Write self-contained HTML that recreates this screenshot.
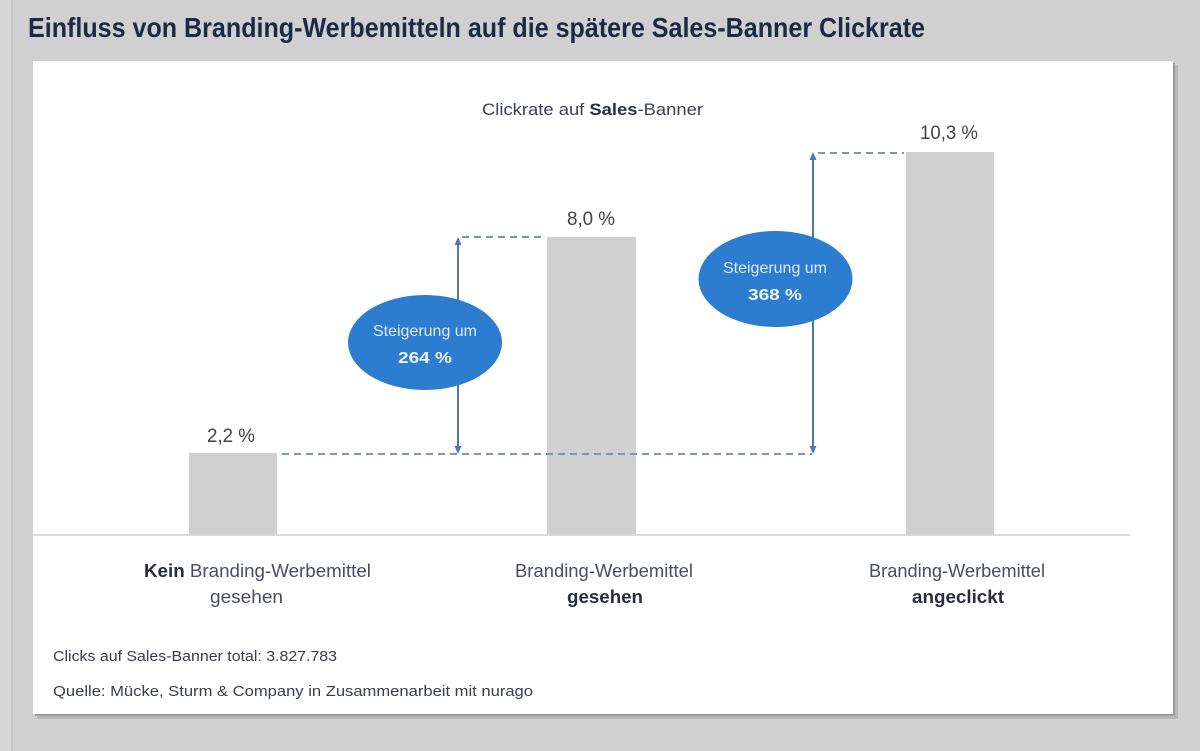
<!DOCTYPE html>
<html>
<head>
<meta charset="utf-8">
<style>
html,body{margin:0;padding:0;background:#d0d0d0;}
body{width:1200px;height:751px;overflow:hidden;}
svg{display:block;}
text{font-family:"Liberation Sans",Arial,sans-serif;}
</style>
</head>
<body>
<svg width="1200" height="751" viewBox="0 0 1200 751" xmlns="http://www.w3.org/2000/svg">
  <rect x="0" y="0" width="1200" height="751" fill="#d0d0d0"/>
  <rect x="0" y="0" width="11" height="751" fill="#d5d5d5"/>
  <rect x="11" y="0" width="2" height="751" fill="#c6c6c6"/>

  <!-- Title -->
  <text x="28" y="37" font-size="28" font-weight="bold" fill="#1d2947" textLength="897" lengthAdjust="spacingAndGlyphs">Einfluss von Branding-Werbemitteln auf die spätere Sales-Banner Clickrate</text>

  <!-- panel shadow -->
  <rect x="37" y="65" width="1141" height="654" fill="#b8b8b8"/>
  <rect x="35" y="63" width="1140" height="653" fill="#9c9c9c"/>
  <!-- panel -->
  <rect x="33" y="61" width="1140" height="653" fill="#ffffff"/>

  <!-- Chart title -->
  <text x="482" y="115" font-size="17" fill="#3c3f52" textLength="221" lengthAdjust="spacingAndGlyphs">Clickrate auf <tspan font-weight="bold" fill="#2a2e44">Sales</tspan>-Banner</text>

  <!-- axis -->
  <rect x="33" y="534" width="1097" height="2" fill="#d9d9d9"/>

  <!-- bars -->
  <rect x="189" y="453" width="88" height="81" fill="#d0d0d0"/>
  <rect x="547" y="237" width="89" height="297" fill="#d0d0d0"/>
  <rect x="906" y="152" width="88" height="382" fill="#d0d0d0"/>

  <!-- value labels -->
  <text x="207" y="442" font-size="19" fill="#444" textLength="48" lengthAdjust="spacingAndGlyphs">2,2 %</text>
  <text x="567" y="225" font-size="19" fill="#444" textLength="48" lengthAdjust="spacingAndGlyphs">8,0 %</text>
  <text x="920" y="139" font-size="19" fill="#444" textLength="58" lengthAdjust="spacingAndGlyphs">10,3 %</text>

  <!-- dashed lines -->
  <g stroke="#8094ad" stroke-width="2" stroke-dasharray="7,5" fill="none">
    <line x1="282" y1="454" x2="812" y2="454"/>
    <line x1="462" y1="237" x2="545" y2="237"/>
    <line x1="818" y1="153" x2="904" y2="153"/>
  </g>

  <!-- arrows -->
  <g stroke="#4f78b0" stroke-width="2" fill="none">
    <line x1="458" y1="242" x2="458" y2="449"/>
    <line x1="813" y1="158" x2="813" y2="449"/>
  </g>
  <g fill="#4f78b0">
    <polygon points="458,237 454.5,245 461.5,245"/>
    <polygon points="458,454 454.5,446 461.5,446"/>
    <polygon points="813,152 809.5,160 816.5,160"/>
    <polygon points="813,454 809.5,446 816.5,446"/>
  </g>

  <!-- ellipses -->
  <ellipse cx="425" cy="342.5" rx="77" ry="47.5" fill="#2c7dd0"/>
  <ellipse cx="775.5" cy="279" rx="77" ry="48" fill="#2c7dd0"/>
  <text x="373" y="336" font-size="16" fill="#dfeaf7" textLength="104" lengthAdjust="spacingAndGlyphs">Steigerung um</text>
  <text x="398" y="363" font-size="16" font-weight="bold" fill="#eef4fb" textLength="54" lengthAdjust="spacingAndGlyphs">264 %</text>
  <text x="723" y="273" font-size="16" fill="#dfeaf7" textLength="104" lengthAdjust="spacingAndGlyphs">Steigerung um</text>
  <text x="748" y="300" font-size="16" font-weight="bold" fill="#eef4fb" textLength="54" lengthAdjust="spacingAndGlyphs">368 %</text>

  <!-- category labels -->
  <text x="144" y="577" font-size="18" fill="#4a4d5e" textLength="227" lengthAdjust="spacingAndGlyphs"><tspan font-weight="bold" fill="#2a2d3e">Kein</tspan> Branding-Werbemittel</text>
  <text x="210" y="603" font-size="18" fill="#4a4d5e" textLength="73" lengthAdjust="spacingAndGlyphs">gesehen</text>

  <text x="515" y="577" font-size="18" fill="#4a4d5e" textLength="178" lengthAdjust="spacingAndGlyphs">Branding-Werbemittel</text>
  <text x="567" y="603" font-size="18" font-weight="bold" fill="#2a2d3e" textLength="76" lengthAdjust="spacingAndGlyphs">gesehen</text>

  <text x="869" y="577" font-size="18" fill="#4a4d5e" textLength="176" lengthAdjust="spacingAndGlyphs">Branding-Werbemittel</text>
  <text x="912" y="603" font-size="18" font-weight="bold" fill="#2a2d3e" textLength="92" lengthAdjust="spacingAndGlyphs">angeclickt</text>

  <!-- footer -->
  <text x="53" y="661" font-size="15" fill="#3a3d4c" textLength="284" lengthAdjust="spacingAndGlyphs">Clicks auf Sales-Banner total: 3.827.783</text>
  <text x="53" y="696" font-size="15" fill="#3a3d4c" textLength="480" lengthAdjust="spacingAndGlyphs">Quelle: Mücke, Sturm &amp; Company in Zusammenarbeit mit nurago</text>
</svg>
</body>
</html>
